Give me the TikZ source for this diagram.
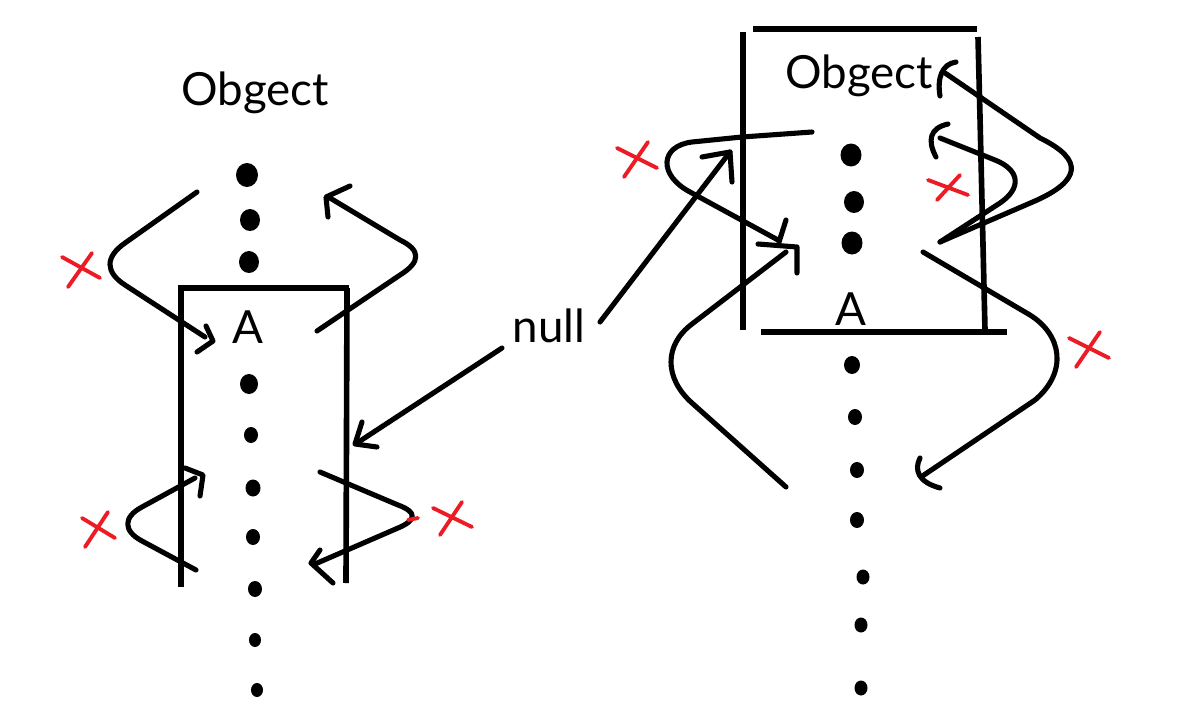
\documentclass[tikz,border=0pt]{standalone}
\usepackage{fontspec}
\setmainfont{Lato}
\definecolor{paintred}{RGB}{237,28,36}
\begin{document}
\begin{tikzpicture}[x={(0.02cm,0)},y={(0,-0.02cm)},
  ink/.style={line width=2.9pt,line cap=round,line join=round,black},
  boxline/.style={line width=3.2pt,black},
  redx/.style={line width=2.2pt,line cap=round,paintred},
  lbl/.style={font=\fontsize{26}{30}\selectfont,inner sep=0pt,anchor=base,text=black}]
\useasboundingbox (0,0) rectangle (1177,710);
% ---------------- left picture ----------------
\node[lbl] (objL) at (255,105) {Obgect};
\node[lbl] (aL) at (248,343) {A};
\node[lbl] (nul) at (549,342) {null};
\foreach \x/\y/\r in {247/175/11,250/220/10,249/262/10,249/384/9,251/435/7,253/488/7.5,253/537/7,255/589/7,255/640/6,257/690/6}
  \fill (\x,\y) ellipse[x radius=\r,y radius=\r+1];
\draw[boxline] (178,288) -- (349,288);
\draw[boxline] (181,288) -- (181,587);
\draw[boxline] (347,288) -- (346,583);
% upper-left loop
\draw[ink] (197,192) -- (125,243) .. controls (105,257) and (105,272) .. (125,285) -- (205,337);
\draw[ink] (206,326) -- (213,341) -- (197,352);
% upper-right loop
\draw[ink] (317,331) -- (400,275) .. controls (421,262) and (421,250) .. (400,240) -- (330,198);
\draw[ink] (328,217) -- (326,197) -- (350,186);
% lower-left loop
\draw[ink] (196,570) -- (142,541) .. controls (123,531) and (123,517) .. (142,507) -- (195,478);
\draw[ink] (185,468) -- (203,475) -- (200,496);
% lower-right loop
\draw[ink] (320,472) -- (398,505) .. controls (417,512) and (417,520) .. (398,528) -- (315,564);
\draw[ink] (320,550) -- (311,563) -- (333,583);
\draw[redx] (408,520) -- (418,518);
% null arrow to the left box
\draw[ink] (502,348) -- (357,443);
\draw[ink] (362,422) -- (355,444) -- (377,447);
% red crosses (left)
\draw[redx] (62,257) -- (100,278) (92,253) -- (68,287);
\draw[redx] (82,518) -- (115,538) (108,512) -- (85,547);
\draw[redx] (433,508) -- (472,527) (462,502) -- (440,535);
% ---------------- right picture ----------------
\node[lbl] (objR) at (859,88) {Obgect};
\node[lbl] (aR) at (851,325) {A};
\foreach \x/\y/\r in {851/155/10.5,854/202/10,852/243/10.5,852/365/8,855/417/7,857/470/7,857/520/7,863/577/6.5,861/625/6.5,861/688/6.5}
  \fill (\x,\y) ellipse[x radius=\r,y radius=\r+1];
\draw[boxline] (753,29) -- (977,29);
\draw[boxline] (743,32) -- (743,330);
\draw[boxline] (978,37) -- (980,117) -- (985,330);
\draw[boxline] (761,332) -- (1007,332);
% null arrow to the right box
\draw[ink] (600,322) -- (730,152);
\draw[ink] (702,157) -- (730,152) -- (732,182);
% arrow A (upper left loop)
\draw[ink] (812,132) -- (742,137) -- (692,142) .. controls (660,146) and (658,175) .. (690,192) -- (778,240);
\draw[ink] (786,220) -- (779,242);
% arrow B (big lower left loop)
\draw[ink] (786,487) -- (692,403) .. controls (664,378) and (664,345) .. (692,324) -- (786,252);
\draw[ink] (758,244) -- (797,247) -- (797,273);
% arrow C (big upper right loop)
\draw[ink] (940,242) -- (1035,201) .. controls (1080,181) and (1085,160) .. (1040,138) -- (945,73);
\draw[ink] (956,62) .. controls (942,64) and (937,78) .. (940,96);
% arrow D (small upper right loop)
\draw[ink] (940,242) -- (1000,203) .. controls (1022,188) and (1020,170) .. (995,160) -- (940,138);
\draw[ink] (948,124) .. controls (930,128) and (927,140) .. (936,157);
% arrow E (lower right loop)
\draw[ink] (923,252) -- (1030,315) .. controls (1062,335) and (1068,372) .. (1035,400) -- (921,477);
\draw[ink] (920,458) .. controls (914,470) and (918,482) .. (940,488);
% red crosses (right)
\draw[redx] (617,148) -- (657,168) (648,142) -- (624,177);
\draw[redx] (928,180) -- (968,195) (960,175) -- (937,200);
\draw[redx] (1069,338) -- (1109,358) (1100,332) -- (1076,367);
\end{tikzpicture}
\end{document}
